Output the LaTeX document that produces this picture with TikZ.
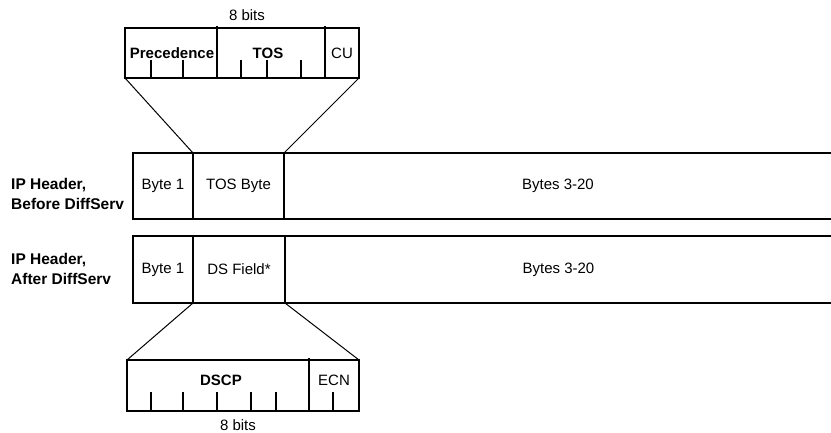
\documentclass[tikz,border=0pt]{standalone}
\usepackage{fontspec}
\setmainfont{Liberation Sans}

\tikzset{
	field/.style={draw, line width=1.2pt, inner sep=0pt, outer sep=0pt, font=\fontsize{15}{18}\selectfont},
	bold/.style={font=\fontsize{15}{18}\selectfont\bfseries},
	rowlabel/.style={anchor=west, align=left, inner sep=0pt, font=\fontsize{15.5}{20}\selectfont\bfseries},
	tick/.style={line width=1.2pt},
}

\begin{document}
\begin{tikzpicture}[x=1pt, y=-1pt]
	\useasboundingbox (0,0) rectangle (831,433);
	
	% TOS byte, old layout
	\node[field, minimum width=92, minimum height=50] (prec) at (171,53){};
	\node[field, minimum width=108, minimum height=50] (tos) at (271,53){};
	\node[field, minimum width=34, minimum height=50] (cu) at (342,53){CU};
	\node[bold] at ([xshift=1pt]prec.center){Precedence};
	\node[bold] at ([xshift=-3pt]tos.center){TOS};
	\draw[tick] (prec.north east)--++(0,-2);
	\draw[tick] (tos.north east)--++(0,-2);
	\foreach \x in {151,183,241,267,301}
		\draw[tick] (\x,60)--(\x,78);
	\node[font=\fontsize{15}{18}\selectfont] at (247,15){8 bits};
	
	% IP header before
	\node[rowlabel] at (11,193.5){IP Header,\\Before DiffServ};
	\node[field, minimum width=60, minimum height=66] (byteone) at (163,186){Byte 1};
	\node[field, minimum width=91, minimum height=66] (tosbyte) at (238.5,186){TOS Byte};
	\node[field, minimum width=548, minimum height=66] (restone) at (558,186){Bytes 3-20};
	
	% IP header after
	\node[rowlabel] at (11,268.5){IP Header,\\After DiffServ};
	\node[field, minimum width=60, minimum height=67] (bytetwo) at (163,269.5){Byte 1};
	\node[field, minimum width=92, minimum height=67] (dsfield) at (239,269.5){DS Field*};
	\node[field, minimum width=547, minimum height=67] (resttwo) at (558.5,269.5){Bytes 3-20};
	
	% DS byte, new layout
	\node[field, minimum width=182, minimum height=51] (dscp) at (218,385.5){};
	\node[field, minimum width=50, minimum height=51] (ecn) at (334,385.5){};
	\node[bold] at ([xshift=3pt, yshift=5pt]dscp.center){DSCP};
	\node[font=\fontsize{15}{18}\selectfont] at ([yshift=5pt]ecn.center){ECN};
	\draw[tick] (dscp.north east)--++(0,-2);
	\foreach \x in {151,183,217,251,276,333}
		\draw[tick] (\x,392)--(\x,411);
	\node[font=\fontsize{15}{18}\selectfont] at (238,425){8 bits};
	
	% zoom lines
	\draw[line width=1pt] (prec.south west)--(tosbyte.north west);
	\draw[line width=1pt] (cu.south east)--(tosbyte.north east);
	\draw[line width=1pt] (dsfield.south west)--(dscp.north west);
	\draw[line width=1pt] (dsfield.south east)--(ecn.north east);
\end{tikzpicture}
\end{document}
